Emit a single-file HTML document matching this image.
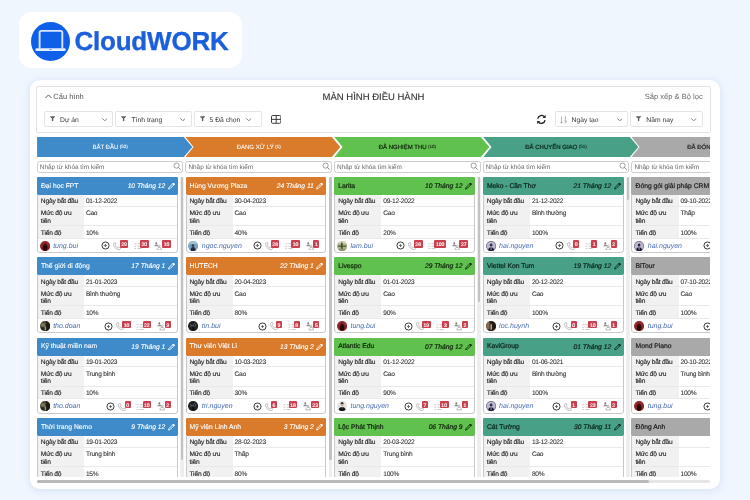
<!DOCTYPE html>
<html lang="vi"><head><meta charset="utf-8"><title>CloudWORK - Màn hình điều hành</title>
<style>
*{box-sizing:border-box;margin:0;padding:0}
html,body{width:750px;height:500px;overflow:hidden;background:#eff6fe}
body{font-family:"Liberation Sans",sans-serif;color:#333;position:relative;text-rendering:geometricPrecision}
.abs{position:absolute}
#logo{position:absolute;left:19px;top:12px;width:223.3px;height:56.4px;background:#fff;border-radius:13px}
#logo .circ{position:absolute;left:11.8px;top:9.6px;width:39px;height:39px;border-radius:50%;background:#0f5fe8}
#logo .txt{position:absolute;left:55.4px;top:15.1px;font-size:26px;font-weight:bold;color:#1b5fdc;-webkit-text-stroke:.35px #1b5fdc;letter-spacing:-.2px;line-height:28px;white-space:nowrap}
#app{position:absolute;left:30px;top:80px;width:690px;height:408.7px;background:#fff;border-radius:10px;box-shadow:0 1px 9px rgba(120,150,200,.22)}
#clip{position:absolute;left:0;top:0;width:710.3px;height:476.8px;overflow:hidden}
#panel{position:absolute;left:36px;top:86px;width:675px;height:47px;border:1px solid #e2e2e2;border-radius:2px;background:#fff}
.t{position:absolute;white-space:nowrap;line-height:1}
.sel{position:absolute;top:111px;height:16px;border:1px solid #e4e4e4;border-radius:2px;background:#fff}
.sel .lb{position:absolute;top:5.7px;font-size:6.75px;color:#333;white-space:nowrap;line-height:1}
.sel svg{position:absolute}
.search{position:absolute;top:161px;height:12px;width:146.6px;border:1px solid #cdcdcd;border-radius:2.500px;background:#fff}
.search span{position:absolute;left:2.1px;top:2.8px;font-size:6.4px;color:#666;white-space:nowrap;line-height:1}
.search svg{position:absolute;right:1.400px;top:.2px}
.stage{position:absolute;top:137px;height:19.9px;font-weight:normal;-webkit-text-stroke:.2px;font-size:6px;text-align:center;white-space:nowrap;line-height:22px}
.stage.wh{-webkit-text-stroke:.06px;color:#f4f8fc}
.stage sup{font-size:4.5px;font-weight:normal;-webkit-text-stroke:.1px;vertical-align:baseline;position:relative;top:-1px;margin-left:1.5px}
.card{position:absolute;width:140.95px;height:76px;border-radius:1px 1px 3px 3px;background:#fff;overflow:hidden}
.card .ol{position:absolute;left:0;top:17px;right:0;bottom:0;border:1px solid #c9c9c9;border-top:none;border-radius:0 0 3px 3px}
.card .hd{position:absolute;left:0;top:0;width:140.95px;height:17.8px}
.card .hd .nm{position:absolute;left:4.1px;top:6.7px;font-size:6.75px;-webkit-text-stroke:.1px;line-height:1;white-space:nowrap}
.card .hd .dt{position:absolute;right:12.6px;top:6.8px;font-size:6.7px;-webkit-text-stroke:.12px;font-style:italic;line-height:1;white-space:nowrap}
.card .hd svg{position:absolute;right:2.6px;top:4.9px}
.card .dk .nm,.card .dk .dt{-webkit-text-stroke-width:.22px}
.row{position:absolute;left:0;width:140.95px;border-bottom:1px solid #e9e9e9}
.row .l{position:absolute;left:0;top:0;bottom:0;width:47.2px;background:#f1f1f1;font-size:6.65px;letter-spacing:-.2px;line-height:7.4px;padding:3.5px 0 0 4px;color:#222;-webkit-text-stroke:.12px #222}
.row .v{position:absolute;left:47.2px;top:0;bottom:0;right:0;font-size:6.6px;letter-spacing:-.24px;line-height:7.4px;padding:3.5px 0 0 1.9px;color:#333;-webkit-text-stroke:.1px #333;white-space:nowrap}
.ft{position:absolute;left:0;top:61.7px;width:140.95px;height:14.5px}
.av{position:absolute;left:2.95px;top:1.95px;width:10.2px;height:10.2px}
.un{position:absolute;left:16.3px;top:3.7px;font-size:7px;font-style:italic;color:#486bb0;line-height:1;white-space:nowrap}
.ic{position:absolute;display:block;line-height:0}
.ic svg,.av svg{display:block}
.bd{position:absolute;top:1.6px;background:#cb404f;color:#fff;font-size:5.1px;font-weight:normal;-webkit-text-stroke:.15px #fff;line-height:11.7px;height:7.1px;text-align:center;border-radius:1px;overflow:hidden}
.vs{position:absolute;width:2.4px;border-radius:1.2px}
</style></head>
<body>
<div id="logo"><div class="circ"><svg width="39" height="39" viewBox="0 0 39 39" style="position:absolute;left:0;top:0"><path d="M8.600 26.400V10.600a1.700 1.700 0 0 1 1.700-1.700h19.300a1.700 1.700 0 0 1 1.700 1.700v15.800" fill="none" stroke="#dbe8ff" stroke-width="1.9"/><rect x="4.400" y="26.300" width="30.300" height="2.700" rx="1.300" fill="#e6efff"/><rect x="18" y="27.100" width="3" height="1" rx=".5" fill="#7fa6f0"/></svg></div><div class="txt">CloudWORK</div></div>
<div id="app"></div>
<div id="panel"></div>
<div id="clip">
<svg class="abs" width="7" height="4.600" viewBox="0 0 14 9.200" style="left:44.500px;top:94px"><path d="M1.200 7.800l5.800-6 5.800 6" fill="none" stroke="#555" stroke-width="1.900" stroke-linecap="round" stroke-linejoin="round"/></svg><div class="t" style="left:53.300px;top:93px;font-size:7.500px;color:#555">Cấu hình</div>
<div class="t" style="left:273.500px;width:200px;text-align:center;top:92.500px;font-size:9.500px;color:#333;-webkit-text-stroke:.12px #333">MÀN HÌNH ĐIỀU HÀNH</div>
<div class="t" style="right:7.600px;top:93.400px;font-size:7.550px;color:#666">Sắp xếp &amp; Bộ lọc</div>
<div class="sel" style="left:44.0px;width:69.0px"><svg width="5.2" height="5.4" viewBox="0 0 10.4 10.8" style="left:4.899999999999999px;top:4.400px"><path d="M.4.5h9.600v1.500l-3.400 2.300v5.400l-2.800 .7v-6.100l-3.400-2.300z" fill="#5c5c5c"/></svg><span class="lb" style="left:15.1px">Dự án</span><svg width="5.6" height="3.5" viewBox="0 0 10.8 6.8" style="left:56.8px;top:5.5px"><path d="M1 1.2l4.4 4.2 4.4-4.2" fill="none" stroke="#5a5a5a" stroke-width="1.4" stroke-linecap="round" stroke-linejoin="round"/></svg></div>
<div class="sel" style="left:115.0px;width:77.0px"><svg width="5.2" height="5.4" viewBox="0 0 10.4 10.8" style="left:5.099999999999994px;top:4.400px"><path d="M.4.5h9.600v1.500l-3.400 2.300v5.400l-2.800 .7v-6.100l-3.400-2.300z" fill="#5c5c5c"/></svg><span class="lb" style="left:15.6px">Tình trạng</span><svg width="5.6" height="3.5" viewBox="0 0 10.8 6.8" style="left:63.69999999999999px;top:5.5px"><path d="M1 1.2l4.4 4.2 4.4-4.2" fill="none" stroke="#5a5a5a" stroke-width="1.4" stroke-linecap="round" stroke-linejoin="round"/></svg></div>
<div class="sel" style="left:194.0px;width:68.0px"><svg width="5.2" height="5.4" viewBox="0 0 10.4 10.8" style="left:4.800000000000011px;top:4.400px"><path d="M.4.5h9.600v1.500l-3.400 2.300v5.400l-2.800 .7v-6.100l-3.400-2.300z" fill="#5c5c5c"/></svg><span class="lb" style="left:14.6px">5 Đã chọn</span><svg width="5.6" height="3.5" viewBox="0 0 10.8 6.8" style="left:50.599999999999994px;top:5.5px"><path d="M1 1.2l4.4 4.2 4.4-4.2" fill="none" stroke="#5a5a5a" stroke-width="1.4" stroke-linecap="round" stroke-linejoin="round"/></svg></div>
<div class="sel" style="left:555.0px;width:73.0px"><svg width="7" height="8.200" viewBox="0 0 12 14" style="left:4.399999999999977px;top:3.600px"><path d="M2.600 1v11M.6 10l2 2.400 2-2.400" fill="none" stroke="#888" stroke-width="1.100"/><path d="M8.300 1.200l1-.4v4.400M8 5.300h2.800" fill="none" stroke="#888" stroke-width="1"/><circle cx="9.300" cy="9" r="1.400" fill="none" stroke="#888" stroke-width="1"/><path d="M10.700 9c0 2.200-.6 3.500-2.400 3.800" fill="none" stroke="#888" stroke-width="1"/></svg><span class="lb" style="left:15.6px">Ngày tạo</span><svg width="5.6" height="3.5" viewBox="0 0 10.8 6.8" style="left:60.5px;top:5.5px"><path d="M1 1.2l4.4 4.2 4.4-4.2" fill="none" stroke="#5a5a5a" stroke-width="1.4" stroke-linecap="round" stroke-linejoin="round"/></svg></div>
<div class="sel" style="left:630.0px;width:73.0px"><svg width="5.2" height="5.4" viewBox="0 0 10.4 10.8" style="left:5.2000000000000455px;top:4.400px"><path d="M.4.5h9.600v1.500l-3.400 2.300v5.400l-2.800 .7v-6.100l-3.400-2.300z" fill="#5c5c5c"/></svg><span class="lb" style="left:15.3px">Năm nay</span><svg width="5.6" height="3.5" viewBox="0 0 10.8 6.8" style="left:60.200000000000045px;top:5.5px"><path d="M1 1.2l4.4 4.2 4.4-4.2" fill="none" stroke="#5a5a5a" stroke-width="1.4" stroke-linecap="round" stroke-linejoin="round"/></svg></div>
<svg class="abs" width="10.400" height="8.800" viewBox="0 0 20.800 17.600" style="left:270.600px;top:115.100px"><rect x="1" y="1" width="18.800" height="15.600" rx="2.400" fill="none" stroke="#333" stroke-width="1.900"/><path d="M10.400 1v15.600M1 8.800h18.800" stroke="#333" stroke-width="1.900"/></svg>
<svg class="abs" width="10.800" height="10.800" viewBox="0 0 20 20" style="left:536px;top:114px"><path d="M3.200 8.600a7 7 0 0 1 12.600-3M16.800 11.400a7 7 0 0 1-12.600 3" fill="none" stroke="#222" stroke-width="2.500"/><path d="M17.800 1.600v5.600h-5.600zM2.200 18.400v-5.600h5.600z" fill="#222"/></svg>
<svg class="abs" width="156" height="19.900" viewBox="0 0 156 19.900" style="left:36.70px;top:137px"><path d="M0 0H146.800L155.400 9.950 146.800 19.900H0Z" fill="#3f8bca"/></svg><div class="stage wh" style="left:36.70px;width:146.800px;color:#fff">BẮT ĐẦU<sup>(52)</sup></div>
<svg class="abs" width="156" height="19.900" viewBox="0 0 156 19.900" style="left:185.35px;top:137px"><path d="M.400 0H146.800L155.400 9.950 146.800 19.900H.400L8.500 9.950Z" fill="#d97b2b"/></svg><div class="stage wh" style="left:185.35px;width:146.800px;color:#fff">ĐANG XỬ LÝ<sup>(1)</sup></div>
<svg class="abs" width="156" height="19.900" viewBox="0 0 156 19.900" style="left:334.00px;top:137px"><path d="M.400 0H146.800L155.400 9.950 146.800 19.900H.400L8.500 9.950Z" fill="#61c14f"/></svg><div class="stage" style="left:334.00px;width:146.800px;color:#10240c">ĐÃ NGHIỆM THU<sup>(10)</sup></div>
<svg class="abs" width="156" height="19.900" viewBox="0 0 156 19.900" style="left:482.65px;top:137px"><path d="M.400 0H146.800L155.400 9.950 146.800 19.900H.400L8.500 9.950Z" fill="#48a086"/></svg><div class="stage" style="left:482.65px;width:146.800px;color:#0d241d">ĐÃ CHUYỂN GIAO<sup>(51)</sup></div>
<svg class="abs" width="156" height="19.900" viewBox="0 0 156 19.900" style="left:631.30px;top:137px"><path d="M.400 0H146.800L155.400 9.950 146.800 19.900H.400L8.500 9.950Z" fill="#a9a9a9"/></svg><div class="stage" style="left:631.30px;width:146.800px;color:#222">ĐÃ ĐÓNG<sup>(9)</sup></div>
<div class="search" style="left:36.70px"><span>Nhập từ khóa tìm kiếm</span><svg width="8" height="8" viewBox="0 0 8 8"><circle cx="3.600" cy="3.600" r="2.600" fill="none" stroke="#858585" stroke-width=".8"/><path d="M5.500 5.500l1.900 1.900" stroke="#858585" stroke-width=".9" stroke-linecap="round"/></svg></div>
<div class="card" style="left:36.85px;top:177.20px"><div class="hd" style="background:#3f8bca;color:#fff"><span class="nm">Đại học FPT</span><span class="dt">10 Tháng 12</span><svg width="7.4" height="7.8" viewBox="0 0 7.4 7.8"><path d="M.6 7.100L1.200 5.300 5.300 1.200 6.400 2.300 2.300 6.400Z" fill="none" stroke="#fff" stroke-width=".9" stroke-linejoin="round"/><path d="M4.700 1.800l.8-.8 1.100 1.100-.8.8z" fill="#fff" stroke="#fff" stroke-width=".7" stroke-linejoin="round"/></svg></div><div class="row" style="top:17.800px;height:11.900px"><div class="l">Ngày bắt đầu</div><div class="v">01-12-2022</div></div><div class="row" style="top:29.700px;height:19.300px"><div class="l">Mức độ ưu<br>tiên</div><div class="v">Cao</div></div><div class="row" style="top:49px;height:12.700px"><div class="l">Tiến độ</div><div class="v">10%</div></div><div class="ft"><div class="av"><svg width="10.200" height="10.200" viewBox="0 0 20 20"><defs><clipPath id="c00"><circle cx="10" cy="10" r="10"/></clipPath></defs><g clip-path="url(#c00)"><rect width="20" height="20" fill="#8e2428"/><ellipse cx="10" cy="13" rx="4.600" ry="6" fill="#230707"/><circle cx="10" cy="7.500" r="2.400" fill="#3a0d0d"/><path d="M3 5l3-2M14 4l3 3" stroke="#b04a48" stroke-width="1.200"/></g></svg></div><span class="un">tung.bui</span><span class="ic" style="left:64.60px;top:2.6px"><svg width="9" height="9" viewBox="0 0 9 9"><circle cx="4.500" cy="4.500" r="3.550" fill="none" stroke="#3a3a3a" stroke-width="1"/><path d="M4.500 3.100v2.800M3.100 4.500h2.800" stroke="#666" stroke-width="1.100"/></svg></span><span class="ic" style="left:76.60px;top:3.3px"><svg width="8" height="8.200" viewBox="0 0 8 8.200"><path d="M1.700.6C1.100.6.5 1.200.5 1.900c0 3.100 2.600 5.700 5.700 5.700.7 0 1.300-.6 1.300-1.200V5.700L5.700 5l-.9.9C3.700 5.400 2.700 4.400 2.200 3.300l.9-.9L2.400.6z" fill="none" stroke="#9c9c9c" stroke-width=".62" stroke-linejoin="round"/></svg></span><span class="ic" style="left:97.10px;top:3.6px"><svg width="8" height="8" viewBox="0 0 16 16"><path d="M1 3.200l1.300 1.300 2.200-2.600M1 8.200l1.300 1.300 2.200-2.600M1.200 13h3M7 3.400h8M7 8.400h8M7 13h8" fill="none" stroke="#a5a5a5" stroke-width="1.2"/></svg></span><span class="ic" style="left:117.50px;top:2.900px"><svg width="8.400" height="8.600" viewBox="0 0 8.400 8.600"><circle cx="2.300" cy="1.300" r=".95" fill="#777"/><path d="M.4 4.300c.1-1.300.8-1.900 1.900-1.900s1.800.6 1.900 1.900z" fill="#8d8d8d"/><circle cx="5.200" cy="4.100" r=".95" fill="none" stroke="#8d8d8d" stroke-width=".55"/><path d="M3 7.400c.1-1.400.9-2 2.200-2s2.100.6 2.200 2" fill="none" stroke="#8d8d8d" stroke-width=".6"/><path d="M2.600 7.900h5.400" stroke="#9a9a9a" stroke-width=".7"/></svg></span><span class="bd" style="left:82.80px;width:8.7px">29</span><span class="bd" style="left:103.20px;width:8.7px">20</span><span class="bd" style="left:125.30px;width:8.7px">10</span></div><div class="ol"></div></div>
<div class="card" style="left:36.85px;top:257.47px"><div class="hd" style="background:#3f8bca;color:#fff"><span class="nm">Thế giới di động</span><span class="dt">17 Tháng 1</span><svg width="7.4" height="7.8" viewBox="0 0 7.4 7.8"><path d="M.6 7.100L1.200 5.300 5.300 1.200 6.400 2.300 2.300 6.400Z" fill="none" stroke="#fff" stroke-width=".9" stroke-linejoin="round"/><path d="M4.700 1.800l.8-.8 1.100 1.100-.8.8z" fill="#fff" stroke="#fff" stroke-width=".7" stroke-linejoin="round"/></svg></div><div class="row" style="top:17.800px;height:11.900px"><div class="l">Ngày bắt đầu</div><div class="v">21-01-2023</div></div><div class="row" style="top:29.700px;height:19.300px"><div class="l">Mức độ ưu<br>tiên</div><div class="v">Bình thường</div></div><div class="row" style="top:49px;height:12.700px"><div class="l">Tiến độ</div><div class="v">10%</div></div><div class="ft"><div class="av"><svg width="10.200" height="10.200" viewBox="0 0 20 20"><defs><clipPath id="c01"><circle cx="10" cy="10" r="10"/></clipPath></defs><g clip-path="url(#c01)"><rect width="20" height="20" fill="#4a4536"/><ellipse cx="6" cy="8" rx="4.500" ry="4" fill="#77745a"/><rect x="12" y="0" width="8" height="20" fill="#1f1b18"/><rect x="9.500" y="11" width="1.600" height="7" fill="#c9c9c0"/><ellipse cx="5" cy="15" rx="4" ry="3" fill="#2c2a1f"/></g></svg></div><span class="un">tho.doan</span><span class="ic" style="left:67.10px;top:2.6px"><svg width="9" height="9" viewBox="0 0 9 9"><circle cx="4.500" cy="4.500" r="3.550" fill="none" stroke="#3a3a3a" stroke-width="1"/><path d="M4.500 3.100v2.800M3.100 4.500h2.800" stroke="#666" stroke-width="1.100"/></svg></span><span class="ic" style="left:79.10px;top:3.3px"><svg width="8" height="8.200" viewBox="0 0 8 8.200"><path d="M1.700.6C1.100.6.5 1.200.5 1.900c0 3.100 2.600 5.700 5.700 5.700.7 0 1.300-.6 1.300-1.200V5.700L5.700 5l-.9.9C3.700 5.400 2.700 4.400 2.200 3.300l.9-.9L2.400.6z" fill="none" stroke="#9c9c9c" stroke-width=".62" stroke-linejoin="round"/></svg></span><span class="ic" style="left:99.60px;top:3.6px"><svg width="8" height="8" viewBox="0 0 16 16"><path d="M1 3.200l1.300 1.300 2.200-2.600M1 8.200l1.300 1.300 2.200-2.600M1.200 13h3M7 3.400h8M7 8.400h8M7 13h8" fill="none" stroke="#a5a5a5" stroke-width="1.2"/></svg></span><span class="ic" style="left:120.00px;top:2.900px"><svg width="8.400" height="8.600" viewBox="0 0 8.400 8.600"><circle cx="2.300" cy="1.300" r=".95" fill="#777"/><path d="M.4 4.300c.1-1.300.8-1.900 1.900-1.900s1.800.6 1.900 1.900z" fill="#8d8d8d"/><circle cx="5.200" cy="4.100" r=".95" fill="none" stroke="#8d8d8d" stroke-width=".55"/><path d="M3 7.400c.1-1.400.9-2 2.200-2s2.100.6 2.200 2" fill="none" stroke="#8d8d8d" stroke-width=".6"/><path d="M2.600 7.900h5.400" stroke="#9a9a9a" stroke-width=".7"/></svg></span><span class="bd" style="left:85.30px;width:8.7px">10</span><span class="bd" style="left:105.70px;width:8.7px">22</span><span class="bd" style="left:127.80px;width:6.2px">3</span></div><div class="ol"></div></div>
<div class="card" style="left:36.85px;top:337.74px"><div class="hd" style="background:#3f8bca;color:#fff"><span class="nm">Kỹ thuật miền nam</span><span class="dt">19 Tháng 1</span><svg width="7.4" height="7.8" viewBox="0 0 7.4 7.8"><path d="M.6 7.100L1.200 5.300 5.300 1.200 6.400 2.300 2.300 6.400Z" fill="none" stroke="#fff" stroke-width=".9" stroke-linejoin="round"/><path d="M4.700 1.800l.8-.8 1.100 1.100-.8.8z" fill="#fff" stroke="#fff" stroke-width=".7" stroke-linejoin="round"/></svg></div><div class="row" style="top:17.800px;height:11.900px"><div class="l">Ngày bắt đầu</div><div class="v">19-01-2023</div></div><div class="row" style="top:29.700px;height:19.300px"><div class="l">Mức độ ưu<br>tiên</div><div class="v">Trung bình</div></div><div class="row" style="top:49px;height:12.700px"><div class="l">Tiến độ</div><div class="v">10%</div></div><div class="ft"><div class="av"><svg width="10.200" height="10.200" viewBox="0 0 20 20"><defs><clipPath id="c02"><circle cx="10" cy="10" r="10"/></clipPath></defs><g clip-path="url(#c02)"><rect width="20" height="20" fill="#4a4536"/><ellipse cx="6" cy="8" rx="4.500" ry="4" fill="#77745a"/><rect x="12" y="0" width="8" height="20" fill="#1f1b18"/><rect x="9.500" y="11" width="1.600" height="7" fill="#c9c9c0"/><ellipse cx="5" cy="15" rx="4" ry="3" fill="#2c2a1f"/></g></svg></div><span class="un">tho.doan</span><span class="ic" style="left:69.60px;top:2.6px"><svg width="9" height="9" viewBox="0 0 9 9"><circle cx="4.500" cy="4.500" r="3.550" fill="none" stroke="#3a3a3a" stroke-width="1"/><path d="M4.500 3.100v2.800M3.100 4.500h2.800" stroke="#666" stroke-width="1.100"/></svg></span><span class="ic" style="left:81.60px;top:3.3px"><svg width="8" height="8.200" viewBox="0 0 8 8.200"><path d="M1.700.6C1.100.6.5 1.200.5 1.900c0 3.100 2.600 5.700 5.700 5.700.7 0 1.300-.6 1.300-1.200V5.700L5.700 5l-.9.9C3.700 5.400 2.700 4.400 2.200 3.300l.9-.9L2.400.6z" fill="none" stroke="#9c9c9c" stroke-width=".62" stroke-linejoin="round"/></svg></span><span class="ic" style="left:99.60px;top:3.6px"><svg width="8" height="8" viewBox="0 0 16 16"><path d="M1 3.200l1.300 1.300 2.200-2.600M1 8.200l1.300 1.300 2.200-2.600M1.200 13h3M7 3.400h8M7 8.400h8M7 13h8" fill="none" stroke="#a5a5a5" stroke-width="1.2"/></svg></span><span class="ic" style="left:120.00px;top:2.900px"><svg width="8.400" height="8.600" viewBox="0 0 8.400 8.600"><circle cx="2.300" cy="1.300" r=".95" fill="#777"/><path d="M.4 4.300c.1-1.300.8-1.900 1.900-1.900s1.800.6 1.900 1.900z" fill="#8d8d8d"/><circle cx="5.200" cy="4.100" r=".95" fill="none" stroke="#8d8d8d" stroke-width=".55"/><path d="M3 7.400c.1-1.400.9-2 2.200-2s2.100.6 2.200 2" fill="none" stroke="#8d8d8d" stroke-width=".6"/><path d="M2.600 7.900h5.400" stroke="#9a9a9a" stroke-width=".7"/></svg></span><span class="bd" style="left:87.80px;width:6.2px">0</span><span class="bd" style="left:105.70px;width:8.7px">10</span><span class="bd" style="left:127.80px;width:6.2px">2</span></div><div class="ol"></div></div>
<div class="card" style="left:36.85px;top:418.01px"><div class="hd" style="background:#3f8bca;color:#fff"><span class="nm">Thời trang Nemo</span><span class="dt">9 Tháng 12</span><svg width="7.4" height="7.8" viewBox="0 0 7.4 7.8"><path d="M.6 7.100L1.200 5.300 5.300 1.200 6.400 2.300 2.300 6.400Z" fill="none" stroke="#fff" stroke-width=".9" stroke-linejoin="round"/><path d="M4.700 1.800l.8-.8 1.100 1.100-.8.8z" fill="#fff" stroke="#fff" stroke-width=".7" stroke-linejoin="round"/></svg></div><div class="row" style="top:17.800px;height:11.900px"><div class="l">Ngày bắt đầu</div><div class="v">19-01-2023</div></div><div class="row" style="top:29.700px;height:19.300px"><div class="l">Mức độ ưu<br>tiên</div><div class="v">Trung bình</div></div><div class="row" style="top:49px;height:12.700px"><div class="l">Tiến độ</div><div class="v">15%</div></div><div class="ft"><div class="av"><svg width="10.200" height="10.200" viewBox="0 0 20 20"><defs><clipPath id="c03"><circle cx="10" cy="10" r="10"/></clipPath></defs><g clip-path="url(#c03)"><rect width="20" height="20" fill="#4a4536"/><ellipse cx="6" cy="8" rx="4.500" ry="4" fill="#77745a"/><rect x="12" y="0" width="8" height="20" fill="#1f1b18"/><rect x="9.500" y="11" width="1.600" height="7" fill="#c9c9c0"/><ellipse cx="5" cy="15" rx="4" ry="3" fill="#2c2a1f"/></g></svg></div><span class="un">tho.doan</span><span class="ic" style="left:72.10px;top:2.6px"><svg width="9" height="9" viewBox="0 0 9 9"><circle cx="4.500" cy="4.500" r="3.550" fill="none" stroke="#3a3a3a" stroke-width="1"/><path d="M4.500 3.100v2.800M3.100 4.500h2.800" stroke="#666" stroke-width="1.100"/></svg></span><span class="ic" style="left:84.10px;top:3.3px"><svg width="8" height="8.200" viewBox="0 0 8 8.200"><path d="M1.700.6C1.100.6.5 1.200.5 1.900c0 3.100 2.600 5.700 5.700 5.700.7 0 1.300-.6 1.300-1.200V5.700L5.700 5l-.9.9C3.700 5.400 2.700 4.400 2.200 3.300l.9-.9L2.400.6z" fill="none" stroke="#9c9c9c" stroke-width=".62" stroke-linejoin="round"/></svg></span><span class="ic" style="left:102.10px;top:3.6px"><svg width="8" height="8" viewBox="0 0 16 16"><path d="M1 3.200l1.300 1.300 2.200-2.600M1 8.200l1.300 1.300 2.200-2.600M1.200 13h3M7 3.400h8M7 8.400h8M7 13h8" fill="none" stroke="#a5a5a5" stroke-width="1.2"/></svg></span><span class="ic" style="left:120.00px;top:2.900px"><svg width="8.400" height="8.600" viewBox="0 0 8.400 8.600"><circle cx="2.300" cy="1.300" r=".95" fill="#777"/><path d="M.4 4.300c.1-1.300.8-1.900 1.900-1.900s1.800.6 1.900 1.900z" fill="#8d8d8d"/><circle cx="5.200" cy="4.100" r=".95" fill="none" stroke="#8d8d8d" stroke-width=".55"/><path d="M3 7.400c.1-1.400.9-2 2.200-2s2.100.6 2.200 2" fill="none" stroke="#8d8d8d" stroke-width=".6"/><path d="M2.600 7.900h5.400" stroke="#9a9a9a" stroke-width=".7"/></svg></span><span class="bd" style="left:90.30px;width:6.2px">1</span><span class="bd" style="left:108.20px;width:6.2px">2</span><span class="bd" style="left:127.80px;width:6.2px">3</span></div><div class="ol"></div></div>
<div class="vs" style="left:180.00px;top:177px;height:300px;width:3.600px;background:#eee"></div><div class="vs" style="left:180.60px;top:177.200px;height:282.8px;background:#c2c2c2"></div>
<div class="search" style="left:185.35px"><span>Nhập từ khóa tìm kiếm</span><svg width="8" height="8" viewBox="0 0 8 8"><circle cx="3.600" cy="3.600" r="2.600" fill="none" stroke="#858585" stroke-width=".8"/><path d="M5.500 5.500l1.900 1.900" stroke="#858585" stroke-width=".9" stroke-linecap="round"/></svg></div>
<div class="card" style="left:185.50px;top:177.20px"><div class="hd" style="background:#d97b2b;color:#fff"><span class="nm">Hùng Vương Plaza</span><span class="dt">24 Tháng 11</span><svg width="7.4" height="7.8" viewBox="0 0 7.4 7.8"><path d="M.6 7.100L1.200 5.300 5.300 1.200 6.400 2.300 2.300 6.400Z" fill="none" stroke="#fff" stroke-width=".9" stroke-linejoin="round"/><path d="M4.700 1.800l.8-.8 1.100 1.100-.8.8z" fill="#fff" stroke="#fff" stroke-width=".7" stroke-linejoin="round"/></svg></div><div class="row" style="top:17.800px;height:11.900px"><div class="l">Ngày bắt đầu</div><div class="v">30-04-2023</div></div><div class="row" style="top:29.700px;height:19.300px"><div class="l">Mức độ ưu<br>tiên</div><div class="v">Cao</div></div><div class="row" style="top:49px;height:12.700px"><div class="l">Tiến độ</div><div class="v">40%</div></div><div class="ft"><div class="av"><svg width="10.200" height="10.200" viewBox="0 0 20 20"><defs><clipPath id="c10"><circle cx="10" cy="10" r="10"/></clipPath></defs><g clip-path="url(#c10)"><rect width="20" height="20" fill="#79a4bf"/><rect y="0" width="20" height="6" fill="#9cc0d4"/><path d="M5 20c0-5 1.500-8 5-8s5 3 5 8z" fill="#232c38"/><circle cx="9.600" cy="9" r="2.600" fill="#2f3742"/></g></svg></div><span class="un">ngoc.nguyen</span><span class="ic" style="left:67.10px;top:2.6px"><svg width="9" height="9" viewBox="0 0 9 9"><circle cx="4.500" cy="4.500" r="3.550" fill="none" stroke="#3a3a3a" stroke-width="1"/><path d="M4.500 3.100v2.800M3.100 4.500h2.800" stroke="#666" stroke-width="1.100"/></svg></span><span class="ic" style="left:79.10px;top:3.3px"><svg width="8" height="8.200" viewBox="0 0 8 8.200"><path d="M1.700.6C1.100.6.5 1.200.5 1.900c0 3.100 2.600 5.700 5.700 5.700.7 0 1.300-.6 1.300-1.200V5.700L5.700 5l-.9.9C3.700 5.400 2.700 4.400 2.200 3.300l.9-.9L2.400.6z" fill="none" stroke="#9c9c9c" stroke-width=".62" stroke-linejoin="round"/></svg></span><span class="ic" style="left:99.60px;top:3.6px"><svg width="8" height="8" viewBox="0 0 16 16"><path d="M1 3.200l1.300 1.300 2.200-2.600M1 8.200l1.300 1.300 2.200-2.600M1.200 13h3M7 3.400h8M7 8.400h8M7 13h8" fill="none" stroke="#a5a5a5" stroke-width="1.2"/></svg></span><span class="ic" style="left:120.00px;top:2.900px"><svg width="8.400" height="8.600" viewBox="0 0 8.400 8.600"><circle cx="2.300" cy="1.300" r=".95" fill="#777"/><path d="M.4 4.300c.1-1.300.8-1.900 1.900-1.900s1.800.6 1.900 1.900z" fill="#8d8d8d"/><circle cx="5.200" cy="4.100" r=".95" fill="none" stroke="#8d8d8d" stroke-width=".55"/><path d="M3 7.400c.1-1.400.9-2 2.200-2s2.100.6 2.200 2" fill="none" stroke="#8d8d8d" stroke-width=".6"/><path d="M2.600 7.900h5.400" stroke="#9a9a9a" stroke-width=".7"/></svg></span><span class="bd" style="left:85.30px;width:8.7px">28</span><span class="bd" style="left:105.70px;width:8.7px">10</span><span class="bd" style="left:127.80px;width:6.2px">1</span></div><div class="ol"></div></div>
<div class="card" style="left:185.50px;top:257.47px"><div class="hd" style="background:#d97b2b;color:#fff"><span class="nm">HUTECH</span><span class="dt">22 Tháng 1</span><svg width="7.4" height="7.8" viewBox="0 0 7.4 7.8"><path d="M.6 7.100L1.200 5.300 5.300 1.200 6.400 2.300 2.300 6.400Z" fill="none" stroke="#fff" stroke-width=".9" stroke-linejoin="round"/><path d="M4.700 1.800l.8-.8 1.100 1.100-.8.8z" fill="#fff" stroke="#fff" stroke-width=".7" stroke-linejoin="round"/></svg></div><div class="row" style="top:17.800px;height:11.900px"><div class="l">Ngày bắt đầu</div><div class="v">20-04-2023</div></div><div class="row" style="top:29.700px;height:19.300px"><div class="l">Mức độ ưu<br>tiên</div><div class="v">Cao</div></div><div class="row" style="top:49px;height:12.700px"><div class="l">Tiến độ</div><div class="v">80%</div></div><div class="ft"><div class="av"><svg width="10.200" height="10.200" viewBox="0 0 20 20"><defs><clipPath id="c11"><circle cx="10" cy="10" r="10"/></clipPath></defs><g clip-path="url(#c11)"><rect width="20" height="20" fill="#1d2023"/><path d="M4 6l3 2-2 4M12 4l3 3-1 4" stroke="#666d74" stroke-width="1.600" fill="none"/><circle cx="10" cy="9" r="2" fill="#4a4f55"/><rect x="8.500" y="12" width="3" height="6" fill="#0b0c0e"/></g></svg></div><span class="un">tin.bui</span><span class="ic" style="left:72.10px;top:2.6px"><svg width="9" height="9" viewBox="0 0 9 9"><circle cx="4.500" cy="4.500" r="3.550" fill="none" stroke="#3a3a3a" stroke-width="1"/><path d="M4.500 3.100v2.800M3.100 4.500h2.800" stroke="#666" stroke-width="1.100"/></svg></span><span class="ic" style="left:84.10px;top:3.3px"><svg width="8" height="8.200" viewBox="0 0 8 8.200"><path d="M1.700.6C1.100.6.5 1.200.5 1.900c0 3.100 2.600 5.700 5.700 5.700.7 0 1.300-.6 1.300-1.200V5.700L5.700 5l-.9.9C3.700 5.400 2.700 4.400 2.200 3.300l.9-.9L2.400.6z" fill="none" stroke="#9c9c9c" stroke-width=".62" stroke-linejoin="round"/></svg></span><span class="ic" style="left:102.10px;top:3.6px"><svg width="8" height="8" viewBox="0 0 16 16"><path d="M1 3.200l1.300 1.300 2.200-2.600M1 8.200l1.300 1.300 2.200-2.600M1.200 13h3M7 3.400h8M7 8.400h8M7 13h8" fill="none" stroke="#a5a5a5" stroke-width="1.2"/></svg></span><span class="ic" style="left:120.00px;top:2.900px"><svg width="8.400" height="8.600" viewBox="0 0 8.400 8.600"><circle cx="2.300" cy="1.300" r=".95" fill="#777"/><path d="M.4 4.300c.1-1.300.8-1.900 1.900-1.900s1.800.6 1.900 1.900z" fill="#8d8d8d"/><circle cx="5.200" cy="4.100" r=".95" fill="none" stroke="#8d8d8d" stroke-width=".55"/><path d="M3 7.400c.1-1.400.9-2 2.200-2s2.100.6 2.200 2" fill="none" stroke="#8d8d8d" stroke-width=".6"/><path d="M2.600 7.900h5.400" stroke="#9a9a9a" stroke-width=".7"/></svg></span><span class="bd" style="left:90.30px;width:6.2px">9</span><span class="bd" style="left:108.20px;width:6.2px">8</span><span class="bd" style="left:127.80px;width:6.2px">5</span></div><div class="ol"></div></div>
<div class="card" style="left:185.50px;top:337.74px"><div class="hd" style="background:#d97b2b;color:#fff"><span class="nm">Thư viên Việt Lì</span><span class="dt">13 Tháng 2</span><svg width="7.4" height="7.8" viewBox="0 0 7.4 7.8"><path d="M.6 7.100L1.200 5.300 5.300 1.200 6.400 2.300 2.300 6.400Z" fill="none" stroke="#fff" stroke-width=".9" stroke-linejoin="round"/><path d="M4.700 1.800l.8-.8 1.100 1.100-.8.8z" fill="#fff" stroke="#fff" stroke-width=".7" stroke-linejoin="round"/></svg></div><div class="row" style="top:17.800px;height:11.900px"><div class="l">Ngày bắt đầu</div><div class="v">10-03-2023</div></div><div class="row" style="top:29.700px;height:19.300px"><div class="l">Mức độ ưu<br>tiên</div><div class="v">Cao</div></div><div class="row" style="top:49px;height:12.700px"><div class="l">Tiến độ</div><div class="v">30%</div></div><div class="ft"><div class="av"><svg width="10.200" height="10.200" viewBox="0 0 20 20"><defs><clipPath id="c12"><circle cx="10" cy="10" r="10"/></clipPath></defs><g clip-path="url(#c12)"><rect width="20" height="20" fill="#1d2023"/><path d="M4 6l3 2-2 4M12 4l3 3-1 4" stroke="#666d74" stroke-width="1.600" fill="none"/><circle cx="10" cy="9" r="2" fill="#4a4f55"/><rect x="8.500" y="12" width="3" height="6" fill="#0b0c0e"/></g></svg></div><span class="un">tri.nguyen</span><span class="ic" style="left:67.10px;top:2.6px"><svg width="9" height="9" viewBox="0 0 9 9"><circle cx="4.500" cy="4.500" r="3.550" fill="none" stroke="#3a3a3a" stroke-width="1"/><path d="M4.500 3.100v2.800M3.100 4.500h2.800" stroke="#666" stroke-width="1.100"/></svg></span><span class="ic" style="left:79.10px;top:3.3px"><svg width="8" height="8.200" viewBox="0 0 8 8.200"><path d="M1.700.6C1.100.6.5 1.200.5 1.900c0 3.100 2.600 5.700 5.700 5.700.7 0 1.300-.6 1.300-1.200V5.700L5.700 5l-.9.9C3.700 5.400 2.700 4.400 2.200 3.300l.9-.9L2.400.6z" fill="none" stroke="#9c9c9c" stroke-width=".62" stroke-linejoin="round"/></svg></span><span class="ic" style="left:97.10px;top:3.6px"><svg width="8" height="8" viewBox="0 0 16 16"><path d="M1 3.200l1.300 1.300 2.200-2.600M1 8.200l1.300 1.300 2.200-2.600M1.200 13h3M7 3.400h8M7 8.400h8M7 13h8" fill="none" stroke="#a5a5a5" stroke-width="1.2"/></svg></span><span class="ic" style="left:117.50px;top:2.900px"><svg width="8.400" height="8.600" viewBox="0 0 8.400 8.600"><circle cx="2.300" cy="1.300" r=".95" fill="#777"/><path d="M.4 4.300c.1-1.300.8-1.900 1.900-1.900s1.800.6 1.900 1.900z" fill="#8d8d8d"/><circle cx="5.200" cy="4.100" r=".95" fill="none" stroke="#8d8d8d" stroke-width=".55"/><path d="M3 7.400c.1-1.400.9-2 2.200-2s2.100.6 2.200 2" fill="none" stroke="#8d8d8d" stroke-width=".6"/><path d="M2.600 7.900h5.400" stroke="#9a9a9a" stroke-width=".7"/></svg></span><span class="bd" style="left:85.30px;width:6.2px">6</span><span class="bd" style="left:103.20px;width:8.7px">18</span><span class="bd" style="left:125.30px;width:8.7px">23</span></div><div class="ol"></div></div>
<div class="card" style="left:185.50px;top:418.01px"><div class="hd" style="background:#d97b2b;color:#fff"><span class="nm">Mỹ viện Linh Anh</span><span class="dt">3 Tháng 2</span><svg width="7.4" height="7.8" viewBox="0 0 7.4 7.8"><path d="M.6 7.100L1.200 5.300 5.300 1.200 6.400 2.300 2.300 6.400Z" fill="none" stroke="#fff" stroke-width=".9" stroke-linejoin="round"/><path d="M4.700 1.800l.8-.8 1.100 1.100-.8.8z" fill="#fff" stroke="#fff" stroke-width=".7" stroke-linejoin="round"/></svg></div><div class="row" style="top:17.800px;height:11.900px"><div class="l">Ngày bắt đầu</div><div class="v">28-02-2023</div></div><div class="row" style="top:29.700px;height:19.300px"><div class="l">Mức độ ưu<br>tiên</div><div class="v">Thấp</div></div><div class="row" style="top:49px;height:12.700px"><div class="l">Tiến độ</div><div class="v">80%</div></div><div class="ft"><div class="av"><svg width="10.200" height="10.200" viewBox="0 0 20 20"><defs><clipPath id="c13"><circle cx="10" cy="10" r="10"/></clipPath></defs><g clip-path="url(#c13)"><rect width="20" height="20" fill="#1d2023"/><path d="M4 6l3 2-2 4M12 4l3 3-1 4" stroke="#666d74" stroke-width="1.600" fill="none"/><circle cx="10" cy="9" r="2" fill="#4a4f55"/><rect x="8.500" y="12" width="3" height="6" fill="#0b0c0e"/></g></svg></div><span class="un">tri.nguyen</span><span class="ic" style="left:72.10px;top:2.6px"><svg width="9" height="9" viewBox="0 0 9 9"><circle cx="4.500" cy="4.500" r="3.550" fill="none" stroke="#3a3a3a" stroke-width="1"/><path d="M4.500 3.100v2.800M3.100 4.500h2.800" stroke="#666" stroke-width="1.100"/></svg></span><span class="ic" style="left:84.10px;top:3.3px"><svg width="8" height="8.200" viewBox="0 0 8 8.200"><path d="M1.700.6C1.100.6.5 1.200.5 1.900c0 3.100 2.600 5.700 5.700 5.700.7 0 1.300-.6 1.300-1.200V5.700L5.700 5l-.9.9C3.700 5.400 2.700 4.400 2.200 3.300l.9-.9L2.400.6z" fill="none" stroke="#9c9c9c" stroke-width=".62" stroke-linejoin="round"/></svg></span><span class="ic" style="left:102.10px;top:3.6px"><svg width="8" height="8" viewBox="0 0 16 16"><path d="M1 3.200l1.300 1.300 2.200-2.600M1 8.200l1.300 1.300 2.200-2.600M1.200 13h3M7 3.400h8M7 8.400h8M7 13h8" fill="none" stroke="#a5a5a5" stroke-width="1.2"/></svg></span><span class="ic" style="left:120.00px;top:2.900px"><svg width="8.400" height="8.600" viewBox="0 0 8.400 8.600"><circle cx="2.300" cy="1.300" r=".95" fill="#777"/><path d="M.4 4.300c.1-1.300.8-1.900 1.900-1.900s1.800.6 1.900 1.900z" fill="#8d8d8d"/><circle cx="5.200" cy="4.100" r=".95" fill="none" stroke="#8d8d8d" stroke-width=".55"/><path d="M3 7.400c.1-1.400.9-2 2.200-2s2.100.6 2.200 2" fill="none" stroke="#8d8d8d" stroke-width=".6"/><path d="M2.600 7.900h5.400" stroke="#9a9a9a" stroke-width=".7"/></svg></span><span class="bd" style="left:90.30px;width:6.2px">1</span><span class="bd" style="left:108.20px;width:6.2px">2</span><span class="bd" style="left:127.80px;width:6.2px">3</span></div><div class="ol"></div></div>
<div class="vs" style="left:328.65px;top:177px;height:300px;width:3.600px;background:#eee"></div><div class="vs" style="left:329.25px;top:177.200px;height:282.8px;background:#c2c2c2"></div>
<div class="search" style="left:334.00px"><span>Nhập từ khóa tìm kiếm</span><svg width="8" height="8" viewBox="0 0 8 8"><circle cx="3.600" cy="3.600" r="2.600" fill="none" stroke="#858585" stroke-width=".8"/><path d="M5.500 5.500l1.900 1.900" stroke="#858585" stroke-width=".9" stroke-linecap="round"/></svg></div>
<div class="card" style="left:334.15px;top:177.20px"><div class="hd dk" style="background:#61c14f;color:#10240c"><span class="nm">Larita</span><span class="dt">10 Tháng 12</span><svg width="7.4" height="7.8" viewBox="0 0 7.4 7.8"><path d="M.6 7.100L1.200 5.300 5.300 1.200 6.400 2.300 2.300 6.400Z" fill="none" stroke="#10240c" stroke-width=".9" stroke-linejoin="round"/><path d="M4.700 1.800l.8-.8 1.100 1.100-.8.8z" fill="#10240c" stroke="#10240c" stroke-width=".7" stroke-linejoin="round"/></svg></div><div class="row" style="top:17.800px;height:11.900px"><div class="l">Ngày bắt đầu</div><div class="v">09-12-2022</div></div><div class="row" style="top:29.700px;height:19.300px"><div class="l">Mức độ ưu<br>tiên</div><div class="v">Cao</div></div><div class="row" style="top:49px;height:12.700px"><div class="l">Tiến độ</div><div class="v">20%</div></div><div class="ft"><div class="av"><svg width="10.200" height="10.200" viewBox="0 0 20 20"><defs><clipPath id="c20"><circle cx="10" cy="10" r="10"/></clipPath></defs><g clip-path="url(#c20)"><rect width="20" height="20" fill="#aeb28b"/><rect width="20" height="5" fill="#d9d8c4"/><path d="M2 9h16v3H2z" fill="#5a6a40"/><rect x="8" y="3" width="3" height="13" fill="#3c4a2c"/><path d="M3 15h14v5H3z" fill="#8f9670"/></g></svg></div><span class="un">lam.bui</span><span class="ic" style="left:61.50px;top:2.6px"><svg width="9" height="9" viewBox="0 0 9 9"><circle cx="4.500" cy="4.500" r="3.550" fill="none" stroke="#3a3a3a" stroke-width="1"/><path d="M4.500 3.100v2.800M3.100 4.500h2.800" stroke="#666" stroke-width="1.100"/></svg></span><span class="ic" style="left:73.50px;top:3.3px"><svg width="8" height="8.200" viewBox="0 0 8 8.200"><path d="M1.700.6C1.100.6.5 1.200.5 1.900c0 3.100 2.600 5.700 5.700 5.700.7 0 1.300-.6 1.300-1.200V5.700L5.700 5l-.9.9C3.700 5.400 2.700 4.400 2.200 3.300l.9-.9L2.400.6z" fill="none" stroke="#9c9c9c" stroke-width=".62" stroke-linejoin="round"/></svg></span><span class="ic" style="left:94.00px;top:3.6px"><svg width="8" height="8" viewBox="0 0 16 16"><path d="M1 3.200l1.300 1.300 2.200-2.600M1 8.200l1.300 1.300 2.200-2.600M1.200 13h3M7 3.400h8M7 8.400h8M7 13h8" fill="none" stroke="#a5a5a5" stroke-width="1.2"/></svg></span><span class="ic" style="left:117.50px;top:2.900px"><svg width="8.400" height="8.600" viewBox="0 0 8.400 8.600"><circle cx="2.300" cy="1.300" r=".95" fill="#777"/><path d="M.4 4.300c.1-1.300.8-1.900 1.900-1.900s1.800.6 1.900 1.900z" fill="#8d8d8d"/><circle cx="5.200" cy="4.100" r=".95" fill="none" stroke="#8d8d8d" stroke-width=".55"/><path d="M3 7.400c.1-1.400.9-2 2.200-2s2.100.6 2.200 2" fill="none" stroke="#8d8d8d" stroke-width=".6"/><path d="M2.600 7.900h5.400" stroke="#9a9a9a" stroke-width=".7"/></svg></span><span class="bd" style="left:79.70px;width:8.7px">28</span><span class="bd" style="left:100.10px;width:11.8px">100</span><span class="bd" style="left:125.30px;width:8.7px">27</span></div><div class="ol"></div></div>
<div class="card" style="left:334.15px;top:257.47px"><div class="hd dk" style="background:#61c14f;color:#10240c"><span class="nm">Livespo</span><span class="dt">29 Tháng 12</span><svg width="7.4" height="7.8" viewBox="0 0 7.4 7.8"><path d="M.6 7.100L1.200 5.300 5.300 1.200 6.400 2.300 2.300 6.400Z" fill="none" stroke="#10240c" stroke-width=".9" stroke-linejoin="round"/><path d="M4.700 1.800l.8-.8 1.100 1.100-.8.8z" fill="#10240c" stroke="#10240c" stroke-width=".7" stroke-linejoin="round"/></svg></div><div class="row" style="top:17.800px;height:11.900px"><div class="l">Ngày bắt đầu</div><div class="v">01-01-2023</div></div><div class="row" style="top:29.700px;height:19.300px"><div class="l">Mức độ ưu<br>tiên</div><div class="v">Cao</div></div><div class="row" style="top:49px;height:12.700px"><div class="l">Tiến độ</div><div class="v">90%</div></div><div class="ft"><div class="av"><svg width="10.200" height="10.200" viewBox="0 0 20 20"><defs><clipPath id="c21"><circle cx="10" cy="10" r="10"/></clipPath></defs><g clip-path="url(#c21)"><rect width="20" height="20" fill="#8e2428"/><ellipse cx="10" cy="13" rx="4.600" ry="6" fill="#230707"/><circle cx="10" cy="7.500" r="2.400" fill="#3a0d0d"/><path d="M3 5l3-2M14 4l3 3" stroke="#b04a48" stroke-width="1.200"/></g></svg></div><span class="un">tung.bui</span><span class="ic" style="left:69.60px;top:2.6px"><svg width="9" height="9" viewBox="0 0 9 9"><circle cx="4.500" cy="4.500" r="3.550" fill="none" stroke="#3a3a3a" stroke-width="1"/><path d="M4.500 3.100v2.800M3.100 4.500h2.800" stroke="#666" stroke-width="1.100"/></svg></span><span class="ic" style="left:81.60px;top:3.3px"><svg width="8" height="8.200" viewBox="0 0 8 8.200"><path d="M1.700.6C1.100.6.5 1.200.5 1.900c0 3.100 2.600 5.700 5.700 5.700.7 0 1.300-.6 1.300-1.200V5.700L5.700 5l-.9.9C3.700 5.400 2.700 4.400 2.200 3.300l.9-.9L2.400.6z" fill="none" stroke="#9c9c9c" stroke-width=".62" stroke-linejoin="round"/></svg></span><span class="ic" style="left:102.10px;top:3.6px"><svg width="8" height="8" viewBox="0 0 16 16"><path d="M1 3.200l1.300 1.300 2.200-2.600M1 8.200l1.300 1.300 2.200-2.600M1.200 13h3M7 3.400h8M7 8.400h8M7 13h8" fill="none" stroke="#a5a5a5" stroke-width="1.2"/></svg></span><span class="ic" style="left:120.00px;top:2.900px"><svg width="8.400" height="8.600" viewBox="0 0 8.400 8.600"><circle cx="2.300" cy="1.300" r=".95" fill="#777"/><path d="M.4 4.300c.1-1.300.8-1.900 1.900-1.900s1.800.6 1.900 1.900z" fill="#8d8d8d"/><circle cx="5.200" cy="4.100" r=".95" fill="none" stroke="#8d8d8d" stroke-width=".55"/><path d="M3 7.400c.1-1.400.9-2 2.200-2s2.100.6 2.200 2" fill="none" stroke="#8d8d8d" stroke-width=".6"/><path d="M2.600 7.900h5.400" stroke="#9a9a9a" stroke-width=".7"/></svg></span><span class="bd" style="left:87.80px;width:8.7px">19</span><span class="bd" style="left:108.20px;width:6.2px">3</span><span class="bd" style="left:127.80px;width:6.2px">2</span></div><div class="ol"></div></div>
<div class="card" style="left:334.15px;top:337.74px"><div class="hd dk" style="background:#61c14f;color:#10240c"><span class="nm">Atlantic Edu</span><span class="dt">07 Tháng 12</span><svg width="7.4" height="7.8" viewBox="0 0 7.4 7.8"><path d="M.6 7.100L1.200 5.300 5.300 1.200 6.400 2.300 2.300 6.400Z" fill="none" stroke="#10240c" stroke-width=".9" stroke-linejoin="round"/><path d="M4.700 1.800l.8-.8 1.100 1.100-.8.8z" fill="#10240c" stroke="#10240c" stroke-width=".7" stroke-linejoin="round"/></svg></div><div class="row" style="top:17.800px;height:11.900px"><div class="l">Ngày bắt đầu</div><div class="v">01-12-2022</div></div><div class="row" style="top:29.700px;height:19.300px"><div class="l">Mức độ ưu<br>tiên</div><div class="v">Cao</div></div><div class="row" style="top:49px;height:12.700px"><div class="l">Tiến độ</div><div class="v">90%</div></div><div class="ft"><div class="av"><svg width="10.200" height="10.200" viewBox="0 0 20 20"><defs><clipPath id="c22"><circle cx="10" cy="10" r="10"/></clipPath></defs><g clip-path="url(#c22)"><rect width="20" height="20" fill="#e4e4e4"/><path d="M2.500 20c.5-5.500 3-8 7.500-8s7 2.500 7.500 8z" fill="#141414"/><ellipse cx="10" cy="7.600" rx="2.700" ry="3.200" fill="#d2a98c"/><path d="M7 6.500c0-3 1.200-4.200 3-4.200s3 1.200 3 4.200c-1-1.500-5-1.500-6 0z" fill="#161616"/><path d="M9.200 12.200h1.600l-.8 3z" fill="#f4f4f4"/></g></svg></div><span class="un">tung.nguyen</span><span class="ic" style="left:69.60px;top:2.6px"><svg width="9" height="9" viewBox="0 0 9 9"><circle cx="4.500" cy="4.500" r="3.550" fill="none" stroke="#3a3a3a" stroke-width="1"/><path d="M4.500 3.100v2.800M3.100 4.500h2.800" stroke="#666" stroke-width="1.100"/></svg></span><span class="ic" style="left:81.60px;top:3.3px"><svg width="8" height="8.200" viewBox="0 0 8 8.200"><path d="M1.700.6C1.100.6.5 1.200.5 1.900c0 3.100 2.600 5.700 5.700 5.700.7 0 1.300-.6 1.300-1.200V5.700L5.700 5l-.9.9C3.700 5.400 2.700 4.400 2.200 3.300l.9-.9L2.400.6z" fill="none" stroke="#9c9c9c" stroke-width=".62" stroke-linejoin="round"/></svg></span><span class="ic" style="left:99.60px;top:3.6px"><svg width="8" height="8" viewBox="0 0 16 16"><path d="M1 3.200l1.300 1.300 2.200-2.600M1 8.200l1.300 1.300 2.200-2.600M1.200 13h3M7 3.400h8M7 8.400h8M7 13h8" fill="none" stroke="#a5a5a5" stroke-width="1.2"/></svg></span><span class="ic" style="left:120.00px;top:2.900px"><svg width="8.400" height="8.600" viewBox="0 0 8.400 8.600"><circle cx="2.300" cy="1.300" r=".95" fill="#777"/><path d="M.4 4.300c.1-1.300.8-1.900 1.900-1.900s1.800.6 1.900 1.900z" fill="#8d8d8d"/><circle cx="5.200" cy="4.100" r=".95" fill="none" stroke="#8d8d8d" stroke-width=".55"/><path d="M3 7.400c.1-1.400.9-2 2.200-2s2.100.6 2.200 2" fill="none" stroke="#8d8d8d" stroke-width=".6"/><path d="M2.600 7.900h5.400" stroke="#9a9a9a" stroke-width=".7"/></svg></span><span class="bd" style="left:87.80px;width:6.2px">7</span><span class="bd" style="left:105.70px;width:8.7px">10</span><span class="bd" style="left:127.80px;width:6.2px">1</span></div><div class="ol"></div></div>
<div class="card" style="left:334.15px;top:418.01px"><div class="hd dk" style="background:#61c14f;color:#10240c"><span class="nm">Lộc Phát Thịnh</span><span class="dt">06 Tháng 9</span><svg width="7.4" height="7.8" viewBox="0 0 7.4 7.8"><path d="M.6 7.100L1.200 5.300 5.300 1.200 6.400 2.300 2.300 6.400Z" fill="none" stroke="#10240c" stroke-width=".9" stroke-linejoin="round"/><path d="M4.700 1.800l.8-.8 1.100 1.100-.8.8z" fill="#10240c" stroke="#10240c" stroke-width=".7" stroke-linejoin="round"/></svg></div><div class="row" style="top:17.800px;height:11.900px"><div class="l">Ngày bắt đầu</div><div class="v">20-03-2022</div></div><div class="row" style="top:29.700px;height:19.300px"><div class="l">Mức độ ưu<br>tiên</div><div class="v">Trung bình</div></div><div class="row" style="top:49px;height:12.700px"><div class="l">Tiến độ</div><div class="v">100%</div></div><div class="ft"><div class="av"><svg width="10.200" height="10.200" viewBox="0 0 20 20"><defs><clipPath id="c23"><circle cx="10" cy="10" r="10"/></clipPath></defs><g clip-path="url(#c23)"><rect width="20" height="20" fill="#e4e4e4"/><path d="M2.500 20c.5-5.500 3-8 7.500-8s7 2.500 7.500 8z" fill="#141414"/><ellipse cx="10" cy="7.600" rx="2.700" ry="3.200" fill="#d2a98c"/><path d="M7 6.500c0-3 1.200-4.200 3-4.200s3 1.200 3 4.200c-1-1.500-5-1.500-6 0z" fill="#161616"/><path d="M9.200 12.200h1.600l-.8 3z" fill="#f4f4f4"/></g></svg></div><span class="un">tung.nguyen</span><span class="ic" style="left:72.10px;top:2.6px"><svg width="9" height="9" viewBox="0 0 9 9"><circle cx="4.500" cy="4.500" r="3.550" fill="none" stroke="#3a3a3a" stroke-width="1"/><path d="M4.500 3.100v2.800M3.100 4.500h2.800" stroke="#666" stroke-width="1.100"/></svg></span><span class="ic" style="left:84.10px;top:3.3px"><svg width="8" height="8.200" viewBox="0 0 8 8.200"><path d="M1.700.6C1.100.6.5 1.200.5 1.900c0 3.100 2.600 5.700 5.700 5.700.7 0 1.300-.6 1.300-1.200V5.700L5.700 5l-.9.9C3.700 5.400 2.700 4.400 2.200 3.300l.9-.9L2.400.6z" fill="none" stroke="#9c9c9c" stroke-width=".62" stroke-linejoin="round"/></svg></span><span class="ic" style="left:102.10px;top:3.6px"><svg width="8" height="8" viewBox="0 0 16 16"><path d="M1 3.200l1.300 1.300 2.200-2.600M1 8.200l1.300 1.300 2.200-2.600M1.200 13h3M7 3.400h8M7 8.400h8M7 13h8" fill="none" stroke="#a5a5a5" stroke-width="1.2"/></svg></span><span class="ic" style="left:120.00px;top:2.900px"><svg width="8.400" height="8.600" viewBox="0 0 8.400 8.600"><circle cx="2.300" cy="1.300" r=".95" fill="#777"/><path d="M.4 4.300c.1-1.300.8-1.900 1.900-1.900s1.800.6 1.900 1.900z" fill="#8d8d8d"/><circle cx="5.200" cy="4.100" r=".95" fill="none" stroke="#8d8d8d" stroke-width=".55"/><path d="M3 7.400c.1-1.400.9-2 2.200-2s2.100.6 2.200 2" fill="none" stroke="#8d8d8d" stroke-width=".6"/><path d="M2.600 7.900h5.400" stroke="#9a9a9a" stroke-width=".7"/></svg></span><span class="bd" style="left:90.30px;width:6.2px">1</span><span class="bd" style="left:108.20px;width:6.2px">2</span><span class="bd" style="left:127.80px;width:6.2px">3</span></div><div class="ol"></div></div>
<div class="vs" style="left:477.30px;top:177px;height:300px;width:3.600px;background:#eee"></div><div class="vs" style="left:477.90px;top:177.200px;height:124.4px;background:#c2c2c2"></div>
<div class="search" style="left:482.65px"><span>Nhập từ khóa tìm kiếm</span><svg width="8" height="8" viewBox="0 0 8 8"><circle cx="3.600" cy="3.600" r="2.600" fill="none" stroke="#858585" stroke-width=".8"/><path d="M5.500 5.500l1.900 1.900" stroke="#858585" stroke-width=".9" stroke-linecap="round"/></svg></div>
<div class="card" style="left:482.80px;top:177.20px"><div class="hd dk" style="background:#48a086;color:#0d241d"><span class="nm">Meko - Cần Thơ</span><span class="dt">21 Tháng 12</span><svg width="7.4" height="7.8" viewBox="0 0 7.4 7.8"><path d="M.6 7.100L1.200 5.300 5.300 1.200 6.400 2.300 2.300 6.400Z" fill="none" stroke="#0d241d" stroke-width=".9" stroke-linejoin="round"/><path d="M4.700 1.800l.8-.8 1.100 1.100-.8.8z" fill="#0d241d" stroke="#0d241d" stroke-width=".7" stroke-linejoin="round"/></svg></div><div class="row" style="top:17.800px;height:11.900px"><div class="l">Ngày bắt đầu</div><div class="v">21-12-2022</div></div><div class="row" style="top:29.700px;height:19.300px"><div class="l">Mức độ ưu<br>tiên</div><div class="v">Bình thường</div></div><div class="row" style="top:49px;height:12.700px"><div class="l">Tiến độ</div><div class="v">100%</div></div><div class="ft"><div class="av"><svg width="10.200" height="10.200" viewBox="0 0 20 20"><defs><clipPath id="c30"><circle cx="10" cy="10" r="10"/></clipPath></defs><g clip-path="url(#c30)"><rect width="20" height="20" fill="#bbb8cf"/><path d="M4 20c.3-5 2-7.500 6-7.500s5.700 2.500 6 7.500z" fill="#151530"/><ellipse cx="10" cy="8" rx="2.600" ry="3" fill="#2a2740"/><path d="M9.200 12.500h1.600l-.3 5h-1z" fill="#f0f0f6"/><circle cx="10" cy="10" r="9.600" fill="none" stroke="#3a3850" stroke-width="1.200"/></g></svg></div><span class="un">hai.nguyen</span><span class="ic" style="left:72.10px;top:2.6px"><svg width="9" height="9" viewBox="0 0 9 9"><circle cx="4.500" cy="4.500" r="3.550" fill="none" stroke="#3a3a3a" stroke-width="1"/><path d="M4.500 3.100v2.800M3.100 4.500h2.800" stroke="#666" stroke-width="1.100"/></svg></span><span class="ic" style="left:84.10px;top:3.3px"><svg width="8" height="8.200" viewBox="0 0 8 8.200"><path d="M1.700.6C1.100.6.5 1.200.5 1.900c0 3.100 2.600 5.700 5.700 5.700.7 0 1.300-.6 1.300-1.200V5.700L5.700 5l-.9.9C3.700 5.400 2.700 4.400 2.200 3.300l.9-.9L2.400.6z" fill="none" stroke="#9c9c9c" stroke-width=".62" stroke-linejoin="round"/></svg></span><span class="ic" style="left:102.10px;top:3.6px"><svg width="8" height="8" viewBox="0 0 16 16"><path d="M1 3.200l1.300 1.300 2.200-2.600M1 8.200l1.300 1.300 2.200-2.600M1.200 13h3M7 3.400h8M7 8.400h8M7 13h8" fill="none" stroke="#a5a5a5" stroke-width="1.2"/></svg></span><span class="ic" style="left:120.00px;top:2.900px"><svg width="8.400" height="8.600" viewBox="0 0 8.400 8.600"><circle cx="2.300" cy="1.300" r=".95" fill="#777"/><path d="M.4 4.300c.1-1.300.8-1.900 1.900-1.900s1.800.6 1.900 1.900z" fill="#8d8d8d"/><circle cx="5.200" cy="4.100" r=".95" fill="none" stroke="#8d8d8d" stroke-width=".55"/><path d="M3 7.400c.1-1.400.9-2 2.200-2s2.100.6 2.200 2" fill="none" stroke="#8d8d8d" stroke-width=".6"/><path d="M2.600 7.900h5.400" stroke="#9a9a9a" stroke-width=".7"/></svg></span><span class="bd" style="left:90.30px;width:6.2px">0</span><span class="bd" style="left:108.20px;width:6.2px">1</span><span class="bd" style="left:127.80px;width:6.2px">2</span></div><div class="ol"></div></div>
<div class="card" style="left:482.80px;top:257.47px"><div class="hd dk" style="background:#48a086;color:#0d241d"><span class="nm">Viettel Kon Tum</span><span class="dt">19 Tháng 12</span><svg width="7.4" height="7.8" viewBox="0 0 7.4 7.8"><path d="M.6 7.100L1.200 5.300 5.300 1.200 6.400 2.300 2.300 6.400Z" fill="none" stroke="#0d241d" stroke-width=".9" stroke-linejoin="round"/><path d="M4.700 1.800l.8-.8 1.100 1.100-.8.8z" fill="#0d241d" stroke="#0d241d" stroke-width=".7" stroke-linejoin="round"/></svg></div><div class="row" style="top:17.800px;height:11.900px"><div class="l">Ngày bắt đầu</div><div class="v">20-12-2022</div></div><div class="row" style="top:29.700px;height:19.300px"><div class="l">Mức độ ưu<br>tiên</div><div class="v">Cao</div></div><div class="row" style="top:49px;height:12.700px"><div class="l">Tiến độ</div><div class="v">100%</div></div><div class="ft"><div class="av"><svg width="10.200" height="10.200" viewBox="0 0 20 20"><defs><clipPath id="c31"><circle cx="10" cy="10" r="10"/></clipPath></defs><g clip-path="url(#c31)"><rect width="20" height="20" fill="#261a12"/><rect x="0" y="2" width="7" height="14" fill="#8b6b4a"/><rect x="9" y="4" width="2.200" height="13" fill="#e8e4dc"/><circle cx="10" cy="5" r="2" fill="#3a2a1e"/></g></svg></div><span class="un">loc.huynh</span><span class="ic" style="left:69.60px;top:2.6px"><svg width="9" height="9" viewBox="0 0 9 9"><circle cx="4.500" cy="4.500" r="3.550" fill="none" stroke="#3a3a3a" stroke-width="1"/><path d="M4.500 3.100v2.800M3.100 4.500h2.800" stroke="#666" stroke-width="1.100"/></svg></span><span class="ic" style="left:81.60px;top:3.3px"><svg width="8" height="8.200" viewBox="0 0 8 8.200"><path d="M1.700.6C1.100.6.5 1.200.5 1.900c0 3.100 2.600 5.700 5.700 5.700.7 0 1.300-.6 1.300-1.200V5.700L5.700 5l-.9.9C3.700 5.400 2.700 4.400 2.200 3.300l.9-.9L2.400.6z" fill="none" stroke="#9c9c9c" stroke-width=".62" stroke-linejoin="round"/></svg></span><span class="ic" style="left:99.60px;top:3.6px"><svg width="8" height="8" viewBox="0 0 16 16"><path d="M1 3.200l1.300 1.300 2.200-2.600M1 8.200l1.300 1.300 2.200-2.600M1.200 13h3M7 3.400h8M7 8.400h8M7 13h8" fill="none" stroke="#a5a5a5" stroke-width="1.2"/></svg></span><span class="ic" style="left:120.00px;top:2.900px"><svg width="8.400" height="8.600" viewBox="0 0 8.400 8.600"><circle cx="2.300" cy="1.300" r=".95" fill="#777"/><path d="M.4 4.300c.1-1.300.8-1.900 1.900-1.900s1.800.6 1.900 1.900z" fill="#8d8d8d"/><circle cx="5.200" cy="4.100" r=".95" fill="none" stroke="#8d8d8d" stroke-width=".55"/><path d="M3 7.400c.1-1.400.9-2 2.200-2s2.100.6 2.200 2" fill="none" stroke="#8d8d8d" stroke-width=".6"/><path d="M2.600 7.900h5.400" stroke="#9a9a9a" stroke-width=".7"/></svg></span><span class="bd" style="left:87.80px;width:6.2px">0</span><span class="bd" style="left:105.70px;width:8.7px">10</span><span class="bd" style="left:127.80px;width:6.2px">1</span></div><div class="ol"></div></div>
<div class="card" style="left:482.80px;top:337.74px"><div class="hd dk" style="background:#48a086;color:#0d241d"><span class="nm">KaviGroup</span><span class="dt">01 Tháng 12</span><svg width="7.4" height="7.8" viewBox="0 0 7.4 7.8"><path d="M.6 7.100L1.200 5.300 5.300 1.200 6.400 2.300 2.300 6.400Z" fill="none" stroke="#0d241d" stroke-width=".9" stroke-linejoin="round"/><path d="M4.700 1.800l.8-.8 1.100 1.100-.8.8z" fill="#0d241d" stroke="#0d241d" stroke-width=".7" stroke-linejoin="round"/></svg></div><div class="row" style="top:17.800px;height:11.900px"><div class="l">Ngày bắt đầu</div><div class="v">01-06-2021</div></div><div class="row" style="top:29.700px;height:19.300px"><div class="l">Mức độ ưu<br>tiên</div><div class="v">Bình thường</div></div><div class="row" style="top:49px;height:12.700px"><div class="l">Tiến độ</div><div class="v">100%</div></div><div class="ft"><div class="av"><svg width="10.200" height="10.200" viewBox="0 0 20 20"><defs><clipPath id="c32"><circle cx="10" cy="10" r="10"/></clipPath></defs><g clip-path="url(#c32)"><rect width="20" height="20" fill="#bbb8cf"/><path d="M4 20c.3-5 2-7.500 6-7.500s5.700 2.500 6 7.500z" fill="#151530"/><ellipse cx="10" cy="8" rx="2.600" ry="3" fill="#2a2740"/><path d="M9.200 12.500h1.600l-.3 5h-1z" fill="#f0f0f6"/><circle cx="10" cy="10" r="9.600" fill="none" stroke="#3a3850" stroke-width="1.200"/></g></svg></div><span class="un">hai.nguyen</span><span class="ic" style="left:69.60px;top:2.6px"><svg width="9" height="9" viewBox="0 0 9 9"><circle cx="4.500" cy="4.500" r="3.550" fill="none" stroke="#3a3a3a" stroke-width="1"/><path d="M4.500 3.100v2.800M3.100 4.500h2.800" stroke="#666" stroke-width="1.100"/></svg></span><span class="ic" style="left:81.60px;top:3.3px"><svg width="8" height="8.200" viewBox="0 0 8 8.200"><path d="M1.700.6C1.100.6.5 1.200.5 1.900c0 3.100 2.600 5.700 5.700 5.700.7 0 1.300-.6 1.300-1.200V5.700L5.700 5l-.9.9C3.700 5.400 2.700 4.400 2.200 3.300l.9-.9L2.400.6z" fill="none" stroke="#9c9c9c" stroke-width=".62" stroke-linejoin="round"/></svg></span><span class="ic" style="left:99.60px;top:3.6px"><svg width="8" height="8" viewBox="0 0 16 16"><path d="M1 3.200l1.300 1.300 2.200-2.600M1 8.200l1.300 1.300 2.200-2.600M1.200 13h3M7 3.400h8M7 8.400h8M7 13h8" fill="none" stroke="#a5a5a5" stroke-width="1.2"/></svg></span><span class="ic" style="left:120.00px;top:2.900px"><svg width="8.400" height="8.600" viewBox="0 0 8.400 8.600"><circle cx="2.300" cy="1.300" r=".95" fill="#777"/><path d="M.4 4.300c.1-1.300.8-1.900 1.900-1.900s1.800.6 1.900 1.900z" fill="#8d8d8d"/><circle cx="5.200" cy="4.100" r=".95" fill="none" stroke="#8d8d8d" stroke-width=".55"/><path d="M3 7.400c.1-1.400.9-2 2.200-2s2.100.6 2.200 2" fill="none" stroke="#8d8d8d" stroke-width=".6"/><path d="M2.600 7.900h5.400" stroke="#9a9a9a" stroke-width=".7"/></svg></span><span class="bd" style="left:87.80px;width:6.2px">1</span><span class="bd" style="left:105.70px;width:8.7px">23</span><span class="bd" style="left:127.80px;width:6.2px">2</span></div><div class="ol"></div></div>
<div class="card" style="left:482.80px;top:418.01px"><div class="hd dk" style="background:#48a086;color:#0d241d"><span class="nm">Cát Tường</span><span class="dt">30 Tháng 11</span><svg width="7.4" height="7.8" viewBox="0 0 7.4 7.8"><path d="M.6 7.100L1.200 5.300 5.300 1.200 6.400 2.300 2.300 6.400Z" fill="none" stroke="#0d241d" stroke-width=".9" stroke-linejoin="round"/><path d="M4.700 1.800l.8-.8 1.100 1.100-.8.8z" fill="#0d241d" stroke="#0d241d" stroke-width=".7" stroke-linejoin="round"/></svg></div><div class="row" style="top:17.800px;height:11.900px"><div class="l">Ngày bắt đầu</div><div class="v">13-12-2022</div></div><div class="row" style="top:29.700px;height:19.300px"><div class="l">Mức độ ưu<br>tiên</div><div class="v">Cao</div></div><div class="row" style="top:49px;height:12.700px"><div class="l">Tiến độ</div><div class="v">80%</div></div><div class="ft"><div class="av"><svg width="10.200" height="10.200" viewBox="0 0 20 20"><defs><clipPath id="c33"><circle cx="10" cy="10" r="10"/></clipPath></defs><g clip-path="url(#c33)"><rect width="20" height="20" fill="#bbb8cf"/><path d="M4 20c.3-5 2-7.500 6-7.500s5.700 2.500 6 7.500z" fill="#151530"/><ellipse cx="10" cy="8" rx="2.600" ry="3" fill="#2a2740"/><path d="M9.200 12.500h1.600l-.3 5h-1z" fill="#f0f0f6"/><circle cx="10" cy="10" r="9.600" fill="none" stroke="#3a3850" stroke-width="1.200"/></g></svg></div><span class="un">hai.nguyen</span><span class="ic" style="left:72.10px;top:2.6px"><svg width="9" height="9" viewBox="0 0 9 9"><circle cx="4.500" cy="4.500" r="3.550" fill="none" stroke="#3a3a3a" stroke-width="1"/><path d="M4.500 3.100v2.800M3.100 4.500h2.800" stroke="#666" stroke-width="1.100"/></svg></span><span class="ic" style="left:84.10px;top:3.3px"><svg width="8" height="8.200" viewBox="0 0 8 8.200"><path d="M1.700.6C1.100.6.5 1.200.5 1.900c0 3.100 2.600 5.700 5.700 5.700.7 0 1.300-.6 1.300-1.200V5.700L5.700 5l-.9.9C3.700 5.400 2.700 4.400 2.200 3.300l.9-.9L2.400.6z" fill="none" stroke="#9c9c9c" stroke-width=".62" stroke-linejoin="round"/></svg></span><span class="ic" style="left:102.10px;top:3.6px"><svg width="8" height="8" viewBox="0 0 16 16"><path d="M1 3.200l1.300 1.300 2.200-2.600M1 8.200l1.300 1.300 2.200-2.600M1.200 13h3M7 3.400h8M7 8.400h8M7 13h8" fill="none" stroke="#a5a5a5" stroke-width="1.2"/></svg></span><span class="ic" style="left:120.00px;top:2.900px"><svg width="8.400" height="8.600" viewBox="0 0 8.400 8.600"><circle cx="2.300" cy="1.300" r=".95" fill="#777"/><path d="M.4 4.300c.1-1.300.8-1.900 1.900-1.900s1.800.6 1.900 1.900z" fill="#8d8d8d"/><circle cx="5.200" cy="4.100" r=".95" fill="none" stroke="#8d8d8d" stroke-width=".55"/><path d="M3 7.400c.1-1.400.9-2 2.200-2s2.100.6 2.200 2" fill="none" stroke="#8d8d8d" stroke-width=".6"/><path d="M2.600 7.900h5.400" stroke="#9a9a9a" stroke-width=".7"/></svg></span><span class="bd" style="left:90.30px;width:6.2px">1</span><span class="bd" style="left:108.20px;width:6.2px">2</span><span class="bd" style="left:127.80px;width:6.2px">3</span></div><div class="ol"></div></div>
<div class="vs" style="left:625.95px;top:177px;height:300px;width:3.600px;background:#eee"></div><div class="vs" style="left:626.55px;top:177.200px;height:23.2px;background:#c2c2c2"></div>
<div class="search" style="left:631.30px"><span>Nhập từ khóa tìm kiếm</span><svg width="8" height="8" viewBox="0 0 8 8"><circle cx="3.600" cy="3.600" r="2.600" fill="none" stroke="#858585" stroke-width=".8"/><path d="M5.500 5.500l1.900 1.900" stroke="#858585" stroke-width=".9" stroke-linecap="round"/></svg></div>
<div class="card" style="left:631.45px;top:177.20px"><div class="hd dk" style="background:#a9a9a9;color:#222"><span class="nm">Đóng gói giải pháp CRM</span><span class="dt">05 Tháng 10</span><svg width="7.4" height="7.8" viewBox="0 0 7.4 7.8"><path d="M.6 7.100L1.200 5.300 5.300 1.200 6.400 2.300 2.300 6.400Z" fill="none" stroke="#222" stroke-width=".9" stroke-linejoin="round"/><path d="M4.700 1.800l.8-.8 1.100 1.100-.8.8z" fill="#222" stroke="#222" stroke-width=".7" stroke-linejoin="round"/></svg></div><div class="row" style="top:17.800px;height:11.900px"><div class="l">Ngày bắt đầu</div><div class="v">09-10-2022</div></div><div class="row" style="top:29.700px;height:19.300px"><div class="l">Mức độ ưu<br>tiên</div><div class="v">Thấp</div></div><div class="row" style="top:49px;height:12.700px"><div class="l">Tiến độ</div><div class="v">100%</div></div><div class="ft"><div class="av"><svg width="10.200" height="10.200" viewBox="0 0 20 20"><defs><clipPath id="c40"><circle cx="10" cy="10" r="10"/></clipPath></defs><g clip-path="url(#c40)"><rect width="20" height="20" fill="#bbb8cf"/><path d="M4 20c.3-5 2-7.500 6-7.500s5.700 2.500 6 7.500z" fill="#151530"/><ellipse cx="10" cy="8" rx="2.600" ry="3" fill="#2a2740"/><path d="M9.200 12.500h1.600l-.3 5h-1z" fill="#f0f0f6"/><circle cx="10" cy="10" r="9.600" fill="none" stroke="#3a3850" stroke-width="1.200"/></g></svg></div><span class="un">hai.nguyen</span><span class="ic" style="left:71.90px;top:2.6px"><svg width="9" height="9" viewBox="0 0 9 9"><circle cx="4.500" cy="4.500" r="3.550" fill="none" stroke="#3a3a3a" stroke-width="1"/><path d="M4.500 3.100v2.800M3.100 4.500h2.800" stroke="#666" stroke-width="1.100"/></svg></span><span class="ic" style="left:83.90px;top:3.3px"><svg width="8" height="8.200" viewBox="0 0 8 8.200"><path d="M1.700.6C1.100.6.5 1.200.5 1.900c0 3.100 2.600 5.700 5.700 5.700.7 0 1.300-.6 1.300-1.200V5.700L5.700 5l-.9.9C3.700 5.400 2.700 4.400 2.200 3.300l.9-.9L2.400.6z" fill="none" stroke="#9c9c9c" stroke-width=".62" stroke-linejoin="round"/></svg></span><span class="ic" style="left:101.90px;top:3.6px"><svg width="8" height="8" viewBox="0 0 16 16"><path d="M1 3.200l1.300 1.300 2.200-2.600M1 8.200l1.300 1.300 2.200-2.600M1.200 13h3M7 3.400h8M7 8.400h8M7 13h8" fill="none" stroke="#a5a5a5" stroke-width="1.2"/></svg></span><span class="ic" style="left:119.80px;top:2.900px"><svg width="8.400" height="8.600" viewBox="0 0 8.400 8.600"><circle cx="2.300" cy="1.300" r=".95" fill="#777"/><path d="M.4 4.300c.1-1.300.8-1.900 1.900-1.900s1.800.6 1.900 1.900z" fill="#8d8d8d"/><circle cx="5.200" cy="4.100" r=".95" fill="none" stroke="#8d8d8d" stroke-width=".55"/><path d="M3 7.400c.1-1.400.9-2 2.200-2s2.100.6 2.200 2" fill="none" stroke="#8d8d8d" stroke-width=".6"/><path d="M2.600 7.900h5.400" stroke="#9a9a9a" stroke-width=".7"/></svg></span><span class="bd" style="left:90.10px;width:6.2px">0</span><span class="bd" style="left:108.00px;width:6.2px">0</span><span class="bd" style="left:127.60px;width:6.2px">0</span></div><div class="ol"></div></div>
<div class="card" style="left:631.45px;top:257.47px"><div class="hd dk" style="background:#a9a9a9;color:#222"><span class="nm">BiTour</span><span class="dt">06 Tháng 10</span><svg width="7.4" height="7.8" viewBox="0 0 7.4 7.8"><path d="M.6 7.100L1.200 5.300 5.300 1.200 6.400 2.300 2.300 6.400Z" fill="none" stroke="#222" stroke-width=".9" stroke-linejoin="round"/><path d="M4.700 1.800l.8-.8 1.100 1.100-.8.8z" fill="#222" stroke="#222" stroke-width=".7" stroke-linejoin="round"/></svg></div><div class="row" style="top:17.800px;height:11.900px"><div class="l">Ngày bắt đầu</div><div class="v">07-10-2022</div></div><div class="row" style="top:29.700px;height:19.300px"><div class="l">Mức độ ưu<br>tiên</div><div class="v">Cao</div></div><div class="row" style="top:49px;height:12.700px"><div class="l">Tiến độ</div><div class="v">100%</div></div><div class="ft"><div class="av"><svg width="10.200" height="10.200" viewBox="0 0 20 20"><defs><clipPath id="c41"><circle cx="10" cy="10" r="10"/></clipPath></defs><g clip-path="url(#c41)"><rect width="20" height="20" fill="#8e2428"/><ellipse cx="10" cy="13" rx="4.600" ry="6" fill="#230707"/><circle cx="10" cy="7.500" r="2.400" fill="#3a0d0d"/><path d="M3 5l3-2M14 4l3 3" stroke="#b04a48" stroke-width="1.200"/></g></svg></div><span class="un">tung.bui</span><span class="ic" style="left:71.90px;top:2.6px"><svg width="9" height="9" viewBox="0 0 9 9"><circle cx="4.500" cy="4.500" r="3.550" fill="none" stroke="#3a3a3a" stroke-width="1"/><path d="M4.500 3.100v2.800M3.100 4.500h2.800" stroke="#666" stroke-width="1.100"/></svg></span><span class="ic" style="left:83.90px;top:3.3px"><svg width="8" height="8.200" viewBox="0 0 8 8.200"><path d="M1.700.6C1.100.6.5 1.200.5 1.900c0 3.100 2.600 5.700 5.700 5.700.7 0 1.300-.6 1.300-1.200V5.700L5.700 5l-.9.9C3.700 5.400 2.700 4.400 2.200 3.300l.9-.9L2.400.6z" fill="none" stroke="#9c9c9c" stroke-width=".62" stroke-linejoin="round"/></svg></span><span class="ic" style="left:101.90px;top:3.6px"><svg width="8" height="8" viewBox="0 0 16 16"><path d="M1 3.200l1.300 1.300 2.200-2.600M1 8.200l1.300 1.300 2.200-2.600M1.200 13h3M7 3.400h8M7 8.400h8M7 13h8" fill="none" stroke="#a5a5a5" stroke-width="1.2"/></svg></span><span class="ic" style="left:119.80px;top:2.900px"><svg width="8.400" height="8.600" viewBox="0 0 8.400 8.600"><circle cx="2.300" cy="1.300" r=".95" fill="#777"/><path d="M.4 4.300c.1-1.300.8-1.900 1.900-1.900s1.800.6 1.900 1.900z" fill="#8d8d8d"/><circle cx="5.200" cy="4.100" r=".95" fill="none" stroke="#8d8d8d" stroke-width=".55"/><path d="M3 7.400c.1-1.400.9-2 2.200-2s2.100.6 2.200 2" fill="none" stroke="#8d8d8d" stroke-width=".6"/><path d="M2.600 7.900h5.400" stroke="#9a9a9a" stroke-width=".7"/></svg></span><span class="bd" style="left:90.10px;width:6.2px">0</span><span class="bd" style="left:108.00px;width:6.2px">0</span><span class="bd" style="left:127.60px;width:6.2px">0</span></div><div class="ol"></div></div>
<div class="card" style="left:631.45px;top:337.74px"><div class="hd dk" style="background:#a9a9a9;color:#222"><span class="nm">Mond Piano</span><span class="dt">19 Tháng 10</span><svg width="7.4" height="7.8" viewBox="0 0 7.4 7.8"><path d="M.6 7.100L1.200 5.300 5.300 1.200 6.400 2.300 2.300 6.400Z" fill="none" stroke="#222" stroke-width=".9" stroke-linejoin="round"/><path d="M4.700 1.800l.8-.8 1.100 1.100-.8.8z" fill="#222" stroke="#222" stroke-width=".7" stroke-linejoin="round"/></svg></div><div class="row" style="top:17.800px;height:11.900px"><div class="l">Ngày bắt đầu</div><div class="v">20-10-2022</div></div><div class="row" style="top:29.700px;height:19.300px"><div class="l">Mức độ ưu<br>tiên</div><div class="v">Trung bình</div></div><div class="row" style="top:49px;height:12.700px"><div class="l">Tiến độ</div><div class="v">100%</div></div><div class="ft"><div class="av"><svg width="10.200" height="10.200" viewBox="0 0 20 20"><defs><clipPath id="c42"><circle cx="10" cy="10" r="10"/></clipPath></defs><g clip-path="url(#c42)"><rect width="20" height="20" fill="#8e2428"/><ellipse cx="10" cy="13" rx="4.600" ry="6" fill="#230707"/><circle cx="10" cy="7.500" r="2.400" fill="#3a0d0d"/><path d="M3 5l3-2M14 4l3 3" stroke="#b04a48" stroke-width="1.200"/></g></svg></div><span class="un">tung.bui</span><span class="ic" style="left:71.90px;top:2.6px"><svg width="9" height="9" viewBox="0 0 9 9"><circle cx="4.500" cy="4.500" r="3.550" fill="none" stroke="#3a3a3a" stroke-width="1"/><path d="M4.500 3.100v2.800M3.100 4.500h2.800" stroke="#666" stroke-width="1.100"/></svg></span><span class="ic" style="left:83.90px;top:3.3px"><svg width="8" height="8.200" viewBox="0 0 8 8.200"><path d="M1.700.6C1.100.6.5 1.200.5 1.900c0 3.100 2.600 5.700 5.700 5.700.7 0 1.300-.6 1.300-1.200V5.700L5.700 5l-.9.9C3.700 5.400 2.700 4.400 2.200 3.300l.9-.9L2.400.6z" fill="none" stroke="#9c9c9c" stroke-width=".62" stroke-linejoin="round"/></svg></span><span class="ic" style="left:101.90px;top:3.6px"><svg width="8" height="8" viewBox="0 0 16 16"><path d="M1 3.200l1.300 1.300 2.200-2.600M1 8.200l1.300 1.300 2.200-2.600M1.200 13h3M7 3.400h8M7 8.400h8M7 13h8" fill="none" stroke="#a5a5a5" stroke-width="1.2"/></svg></span><span class="ic" style="left:119.80px;top:2.900px"><svg width="8.400" height="8.600" viewBox="0 0 8.400 8.600"><circle cx="2.300" cy="1.300" r=".95" fill="#777"/><path d="M.4 4.300c.1-1.300.8-1.900 1.900-1.900s1.800.6 1.900 1.900z" fill="#8d8d8d"/><circle cx="5.200" cy="4.100" r=".95" fill="none" stroke="#8d8d8d" stroke-width=".55"/><path d="M3 7.400c.1-1.400.9-2 2.200-2s2.100.6 2.200 2" fill="none" stroke="#8d8d8d" stroke-width=".6"/><path d="M2.600 7.900h5.400" stroke="#9a9a9a" stroke-width=".7"/></svg></span><span class="bd" style="left:90.10px;width:6.2px">0</span><span class="bd" style="left:108.00px;width:6.2px">0</span><span class="bd" style="left:127.60px;width:6.2px">0</span></div><div class="ol"></div></div>
<div class="card" style="left:631.45px;top:418.01px"><div class="hd dk" style="background:#a9a9a9;color:#222"><span class="nm">Đông Anh</span><span class="dt">21 Tháng 10</span><svg width="7.4" height="7.8" viewBox="0 0 7.4 7.8"><path d="M.6 7.100L1.200 5.300 5.300 1.200 6.400 2.300 2.300 6.400Z" fill="none" stroke="#222" stroke-width=".9" stroke-linejoin="round"/><path d="M4.700 1.800l.8-.8 1.100 1.100-.8.8z" fill="#222" stroke="#222" stroke-width=".7" stroke-linejoin="round"/></svg></div><div class="row" style="top:17.800px;height:11.900px"><div class="l">Ngày bắt đầu</div><div class="v"></div></div><div class="row" style="top:29.700px;height:19.300px"><div class="l">Mức độ ưu<br>tiên</div><div class="v"></div></div><div class="row" style="top:49px;height:12.700px"><div class="l">Tiến độ</div><div class="v">100%</div></div><div class="ft"><div class="av"><svg width="10.200" height="10.200" viewBox="0 0 20 20"><defs><clipPath id="c43"><circle cx="10" cy="10" r="10"/></clipPath></defs><g clip-path="url(#c43)"><rect width="20" height="20" fill="#8e2428"/><ellipse cx="10" cy="13" rx="4.600" ry="6" fill="#230707"/><circle cx="10" cy="7.500" r="2.400" fill="#3a0d0d"/><path d="M3 5l3-2M14 4l3 3" stroke="#b04a48" stroke-width="1.200"/></g></svg></div><span class="un">tung.bui</span><span class="ic" style="left:71.90px;top:2.6px"><svg width="9" height="9" viewBox="0 0 9 9"><circle cx="4.500" cy="4.500" r="3.550" fill="none" stroke="#3a3a3a" stroke-width="1"/><path d="M4.500 3.100v2.800M3.100 4.500h2.800" stroke="#666" stroke-width="1.100"/></svg></span><span class="ic" style="left:83.90px;top:3.3px"><svg width="8" height="8.200" viewBox="0 0 8 8.200"><path d="M1.700.6C1.100.6.5 1.200.5 1.900c0 3.100 2.600 5.700 5.700 5.700.7 0 1.300-.6 1.300-1.200V5.700L5.700 5l-.9.9C3.700 5.400 2.700 4.400 2.200 3.300l.9-.9L2.400.6z" fill="none" stroke="#9c9c9c" stroke-width=".62" stroke-linejoin="round"/></svg></span><span class="ic" style="left:101.90px;top:3.6px"><svg width="8" height="8" viewBox="0 0 16 16"><path d="M1 3.200l1.300 1.300 2.200-2.600M1 8.200l1.300 1.300 2.200-2.600M1.200 13h3M7 3.400h8M7 8.400h8M7 13h8" fill="none" stroke="#a5a5a5" stroke-width="1.2"/></svg></span><span class="ic" style="left:119.80px;top:2.900px"><svg width="8.400" height="8.600" viewBox="0 0 8.400 8.600"><circle cx="2.300" cy="1.300" r=".95" fill="#777"/><path d="M.4 4.300c.1-1.300.8-1.900 1.900-1.900s1.800.6 1.900 1.900z" fill="#8d8d8d"/><circle cx="5.200" cy="4.100" r=".95" fill="none" stroke="#8d8d8d" stroke-width=".55"/><path d="M3 7.400c.1-1.400.9-2 2.200-2s2.100.6 2.200 2" fill="none" stroke="#8d8d8d" stroke-width=".6"/><path d="M2.600 7.900h5.400" stroke="#9a9a9a" stroke-width=".7"/></svg></span><span class="bd" style="left:90.10px;width:6.2px">0</span><span class="bd" style="left:108.00px;width:6.2px">1</span><span class="bd" style="left:127.60px;width:6.2px">2</span></div><div class="ol"></div></div>
<div class="vs" style="left:774.60px;top:177px;height:300px;width:3.600px;background:#eee"></div><div class="vs" style="left:775.20px;top:177.200px;height:23.2px;background:#c2c2c2"></div>
</div>
<div class="abs" style="left:36.800px;top:479.600px;width:673.500px;height:3.100px;background:#e6e6e6;border-radius:1.500px"></div><div class="abs" style="left:36.800px;top:479.600px;width:611.900px;height:3.100px;background:#b9b9b9;border-radius:1.500px"></div>
</body></html>
